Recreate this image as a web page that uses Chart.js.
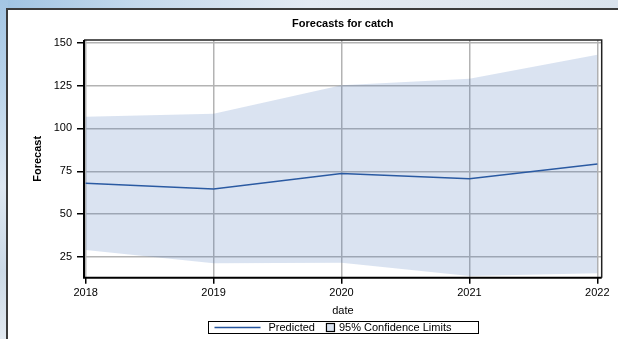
<!DOCTYPE html>
<html>
<head>
<meta charset="utf-8">
<script src="https://cdn.jsdelivr.net/npm/chart.js@4.4.1/dist/chart.umd.min.js"></script>
<style>
  html, body { margin: 0; padding: 0; }
  body {
    width: 618px; height: 339px; overflow: hidden; position: relative;
    background: linear-gradient(90deg, #9fc3e2 0%, #c4d9ec 22%, #e3eaf2 50%, #dfe6ee 80%, #d9e2ec 100%);
  }
  #strip {
    position: absolute; left: 0; top: 0; width: 8px; height: 339px;
    background: linear-gradient(180deg, #a4c6e4 0%, #b9d3ea 25%, #dde7f1 55%, #cbd9e6 80%, #e2e9f0 100%);
  }
  #panel {
    position: absolute; left: 6px; top: 8px; width: 700px; height: 400px;
    background: #fff; border: 2px solid #3b3b3b;
  }
  #chart { position: absolute; left: 0; top: 0; }
</style>
</head>
<body>
<div id="strip"></div>
<div id="panel"></div>
<canvas id="chart" width="618" height="339"></canvas>
<script>
const years = [2018, 2019, 2020, 2021, 2022];
const predicted = [68.0, 64.7, 73.7, 70.7, 79.3];
const upper95 = [106.9, 108.6, 125.2, 129.0, 143.0];
const lower95 = [29.1, 21.4, 21.6, 13.9, 15.5];
const yTicks = [25, 50, 75, 100, 125, 150];
const legendLabels = ['Predicted', '95% Confidence Limits'];

const FONT = '"Liberation Sans", Arial, Helvetica, sans-serif';
const LINE_COLOR = '#24549d';
const BAND_COLOR = 'rgba(70, 115, 185, 0.2)';
const BAND_SWATCH = '#dae3f0';

const toPoints = vals => vals.map((v, i) => ({ x: years[i], y: v }));

// black frame around the plot area: heavy axes on left/bottom, thinner on top/right
const plotFrame = {
  id: 'plotFrame',
  afterDatasetsDraw(chart) {
    const { ctx, chartArea: a } = chart;
    ctx.save();
    ctx.strokeStyle = '#222';
    ctx.lineWidth = 1.5;
    ctx.beginPath();
    ctx.moveTo(a.left, a.top);
    ctx.lineTo(a.right, a.top);
    ctx.lineTo(a.right, a.bottom);
    ctx.stroke();
    ctx.strokeStyle = '#000';
    ctx.lineWidth = 2;
    ctx.beginPath();
    ctx.moveTo(a.left, a.top);
    ctx.lineTo(a.left, a.bottom);
    ctx.lineTo(a.right, a.bottom);
    ctx.stroke();
    ctx.restore();
  }
};

// boxed legend under the x axis title
const legendBox = {
  id: 'legendBox',
  afterDraw(chart) {
    const { ctx, chartArea: a } = chart;
    const cx = (a.left + a.right) / 2;
    const boxW = 270, boxTop = 321.5, boxH = 12;
    const left = Math.round(cx - boxW / 2) + 0.5;
    const midY = boxTop + boxH / 2;
    ctx.save();
    ctx.font = `11px ${FONT}`;
    ctx.textBaseline = 'middle';
    ctx.fillStyle = '#fff';
    ctx.fillRect(left, boxTop, boxW, boxH);
    ctx.strokeStyle = '#000';
    ctx.lineWidth = 1;
    ctx.strokeRect(left, boxTop, boxW, boxH);

    let x = left + 6;
    ctx.strokeStyle = LINE_COLOR;
    ctx.lineWidth = 1.5;
    ctx.beginPath();
    ctx.moveTo(x, midY);
    ctx.lineTo(x + 46, midY);
    ctx.stroke();
    x += 54;
    ctx.fillStyle = '#000';
    ctx.fillText(legendLabels[0], x, midY + 0.5);
    x += ctx.measureText(legendLabels[0]).width + 11;

    ctx.fillStyle = BAND_SWATCH;
    ctx.fillRect(x, midY - 4.5, 9, 9);
    ctx.strokeStyle = '#000';
    ctx.lineWidth = 1.2;
    ctx.strokeRect(x + 0.5, midY - 4, 8, 8);
    x += 13;
    ctx.fillStyle = '#000';
    ctx.fillText(legendLabels[1], x, midY + 0.5);
    ctx.restore();
  }
};

const tickFont = { family: FONT, size: 11 };
const titleFont = { family: FONT, size: 11, weight: 'bold' };

new Chart(document.getElementById('chart').getContext('2d'), {
  type: 'line',
  data: {
    datasets: [
      {
        label: 'Upper 95%',
        data: toPoints(upper95),
        borderWidth: 0,
        pointRadius: 0,
        backgroundColor: BAND_COLOR,
        fill: '+1'
      },
      {
        label: 'Lower 95%',
        data: toPoints(lower95),
        borderWidth: 0,
        pointRadius: 0,
        fill: false
      },
      {
        label: legendLabels[0],
        data: toPoints(predicted),
        borderColor: LINE_COLOR,
        borderWidth: 1.5,
        pointRadius: 0,
        tension: 0,
        fill: false
      }
    ]
  },
  options: {
    responsive: false,
    animation: false,
    devicePixelRatio: 1,
    layout: { padding: { left: 31, right: 16.3, top: 17, bottom: 21.3 } },
    plugins: {
      legend: { display: false },
      tooltip: { enabled: false },
      title: {
        display: true,
        fullSize: false,
        text: 'Forecasts for catch',
        color: '#000',
        font: titleFont,
        padding: { top: 0.4, bottom: 9.4 }
      }
    },
    scales: {
      x: {
        type: 'linear',
        min: 2017.987,
        max: 2022.034,
        afterBuildTicks: s => { s.ticks = years.map(v => ({ value: v })); },
        afterFit: s => { s.height = 40; },
        ticks: {
          callback: v => String(v),
          color: '#000',
          font: tickFont,
          padding: 3,
          maxRotation: 0,
          autoSkip: false
        },
        grid: { color: '#b3b3b3', lineWidth: 1.5, tickLength: 6, tickColor: '#000', tickWidth: 1.5 },
        border: { display: false },
        title: { display: true, text: 'date', color: '#000', font: tickFont, padding: 0 }
      },
      y: {
        min: 12.95,
        max: 151.6,
        afterBuildTicks: s => { s.ticks = yTicks.map(v => ({ value: v })); },
        afterFit: s => { s.width = 53; },
        ticks: { color: '#000', font: tickFont, padding: 5 },
        grid: { color: '#b3b3b3', lineWidth: 1.5, tickLength: 7, tickColor: '#000', tickWidth: 1.5 },
        border: { display: false },
        title: { display: true, text: 'Forecast', color: '#000', font: titleFont, padding: 0 }
      }
    }
  },
  plugins: [plotFrame, legendBox]
});
</script>
</body>
</html>
